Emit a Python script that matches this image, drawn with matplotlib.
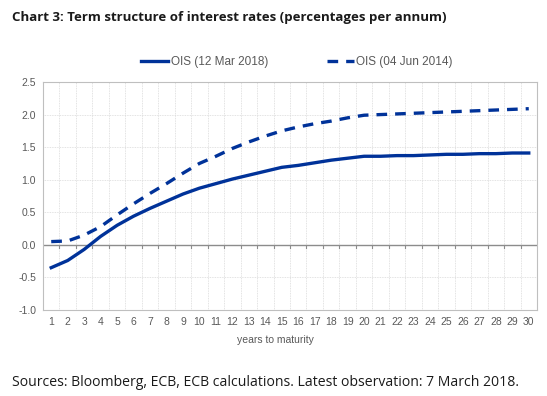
import matplotlib.pyplot as plt
import numpy as np

# data
years = list(range(1, 31))
ois_2018 = [-0.35, -0.24, -0.07, 0.13, 0.30, 0.44, 0.56, 0.67, 0.78, 0.87,
            0.94, 1.01, 1.07, 1.13, 1.19, 1.22, 1.26, 1.30, 1.33, 1.36,
            1.36, 1.37, 1.37, 1.38, 1.39, 1.39, 1.40, 1.40, 1.41, 1.41]
ois_2014 = [0.05, 0.06, 0.15, 0.28, 0.46, 0.63, 0.79, 0.94, 1.10, 1.25,
            1.36, 1.48, 1.58, 1.67, 1.75, 1.81, 1.86, 1.90, 1.95, 1.99,
            2.00, 2.01, 2.02, 2.03, 2.04, 2.05, 2.06, 2.07, 2.08, 2.09]
y_ticks = [-1.0, -0.5, 0.0, 0.5, 1.0, 1.5, 2.0, 2.5]

blue = '#003299'
grey_text = '#595959'

fig = plt.figure(figsize=(5.47, 3.96), dpi=100)
ax = fig.add_axes([43 / 547, 1 - 310 / 396, (537 - 43) / 547, (310 - 82) / 396])

ax.plot(years, ois_2018, '-', color=blue, linewidth=2.4, label='OIS (12 Mar 2018)')
ax.plot(years, ois_2014, '--', color=blue, linewidth=2.4, dashes=(3.2, 2.4),
        label='OIS (04 Jun 2014)')

ax.set_xlim(0.5, 30.5)
ax.set_ylim(-1.0, 2.5)
ax.set_yticks(y_ticks)
ax.set_yticklabels([f'{v:.1f}' for v in y_ticks], family='Liberation Sans',
                   fontsize=7.5, color=grey_text)
ax.set_xticks(years)
ax.set_xticklabels([str(y) for y in years], family='Liberation Sans',
                   fontsize=7.5, color=grey_text)
ax.tick_params(axis='both', length=0, pad=5)

# grid: dotted, at category boundaries on x
for b in np.arange(1.5, 30.5, 1):
    ax.axvline(b, color='#d9d9d9', linewidth=0.6, linestyle=(0, (1, 1)), zorder=0)
for v in y_ticks:
    ax.axhline(v, color='#d9d9d9', linewidth=0.6, linestyle=(0, (1, 1)), zorder=0)

# zero line with small ticks
ax.axhline(0, color='#8c8c8c', linewidth=1.0, zorder=1)
for b in np.arange(1.5, 30.5, 1):
    ax.plot([b, b], [0, -0.05], color='#8c8c8c', linewidth=0.8, zorder=1)

for s in ax.spines.values():
    s.set_color('#bfbfbf')
    s.set_linewidth(0.8)

ax.set_xlabel('years to maturity', family='Liberation Sans', fontsize=7.5,
              color=grey_text, labelpad=6)
ax.xaxis.set_label_coords((275 - 43) / 494, -0.11)

leg = fig.legend(loc='center', bbox_to_anchor=(297 / 547, 1 - 62 / 396), ncol=2,
                 frameon=False, handlelength=2.3, handletextpad=0.2,
                 columnspacing=5.0, prop={'family': 'Liberation Sans', 'size': 8.5})
for t in leg.get_texts():
    t.set_color(grey_text)

fig.text(12 / 547, 1 - 18 / 396,
         'Chart 3: Term structure of interest rates (percentages per annum)',
         family='Open Sans', fontweight='bold', fontsize=9.5, color='#1a1a1a',
         va='center', ha='left')
fig.text(12 / 547, 1 - 382 / 396,
         'Sources: Bloomberg, ECB, ECB calculations. Latest observation: 7 March 2018.',
         family='Open Sans', fontsize=10.1, color='#1a1a1a', va='center', ha='left')

fig.savefig('out.png', dpi=100)
